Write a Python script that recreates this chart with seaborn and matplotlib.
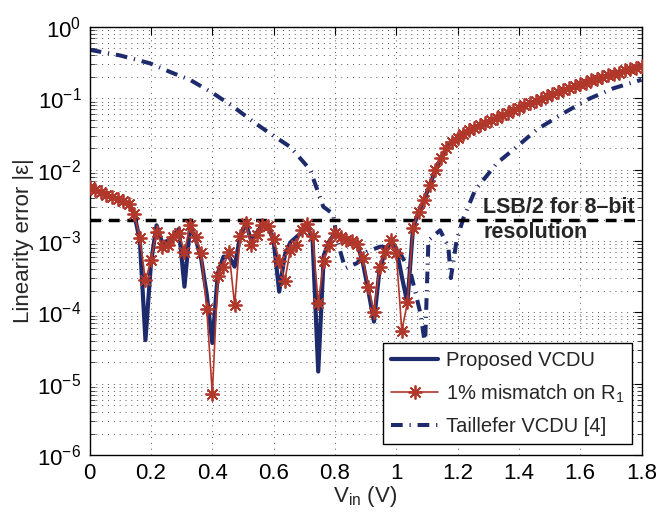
import numpy as np
import pandas as pd
import matplotlib
matplotlib.use("Agg")
import matplotlib.pyplot as plt
import seaborn as sns
from matplotlib.ticker import LogLocator, NullFormatter, FixedLocator, FixedFormatter

# ---------------- data ----------------
vin = np.linspace(0, 1.8, 100)

mismatch_log10 = [
    -2.24, -2.28, -2.32, -2.35, -2.38, -2.41, -2.44, -2.48, -2.62, -2.96,
    -3.55, -3.27, -2.87, -3.08, -3.06, -2.94, -2.89, -3.15, -2.78, -2.94,
    -3.17, -3.95, -5.14, -3.49, -3.36, -3.15, -3.90, -2.93, -2.75, -3.06,
    -2.92, -2.77, -2.79, -2.97, -3.28, -3.56, -3.12, -3.06, -2.85, -2.76,
    -2.93, -3.87, -3.28, -3.06, -2.89, -2.94, -2.98, -3.00, -3.04, -3.24,
    -3.64, -3.99, -3.36, -3.15, -2.99, -3.17, -4.26, -3.86, -2.82, -2.59,
    -2.42, -2.22, -2.01, -1.84, -1.70, -1.61, -1.55, -1.50, -1.45, -1.41,
    -1.37, -1.34, -1.30, -1.27, -1.24, -1.21, -1.17, -1.13, -1.10, -1.07,
    -1.04, -1.01, -0.97, -0.94, -0.91, -0.89, -0.86, -0.83, -0.80, -0.78,
    -0.75, -0.73, -0.70, -0.68, -0.66, -0.64, -0.61, -0.59, -0.57, -0.55,
]

proposed_log10 = [
    -2.24, -2.28, -2.32, -2.35, -2.38, -2.41, -2.44, -2.48, -2.62, -3.00,
    -4.39, -3.30, -2.78, -3.02, -3.00, -2.92, -2.83, -3.64, -2.80, -2.97,
    -3.25, -3.75, -4.43, -3.45, -3.22, -3.22, -3.36, -2.93, -2.75, -3.00,
    -2.88, -2.77, -2.79, -3.00, -3.71, -3.20, -3.02, -2.95, -2.88, -2.76,
    -3.00, -4.83, -3.20, -3.00, -2.89, -2.94, -2.98, -3.00, -3.04, -3.30,
    -3.70, -4.13, -3.40, -3.15, -3.02, -3.10, -3.50, -3.87, -2.82, -2.59,
    -2.42, -2.22, -2.01, -1.84, -1.70, -1.61, -1.55, -1.50, -1.45, -1.41,
    -1.37, -1.34, -1.30, -1.27, -1.24, -1.21, -1.17, -1.13, -1.10, -1.07,
    -1.04, -1.01, -0.97, -0.94, -0.91, -0.89, -0.86, -0.83, -0.80, -0.78,
    -0.75, -0.73, -0.70, -0.68, -0.66, -0.64, -0.61, -0.59, -0.57, -0.55,
]

taillefer_vin = [0.0, 0.10, 0.197, 0.262, 0.327, 0.403, 0.469, 0.534, 0.594,
                 0.654, 0.719, 0.762, 0.794, 0.807, 0.833, 0.872, 0.905, 0.947,
                 1.002, 1.045, 1.078, 1.094, 1.105, 1.143, 1.170, 1.178, 1.197,
                 1.219, 1.257, 1.328, 1.393, 1.458, 1.545, 1.622, 1.708, 1.8]
taillefer_log10 = [-0.32, -0.40, -0.51, -0.63, -0.74, -0.93, -1.12, -1.33, -1.51,
                   -1.68, -2.00, -2.52, -2.62, -2.99, -3.38, -3.31, -3.15, -3.08,
                   -3.10, -3.41, -4.00, -4.45, -2.99, -2.85, -3.08, -3.52, -2.99,
                   -2.68, -2.29, -1.91, -1.68, -1.44, -1.21, -1.02, -0.86, -0.74]

lsb_half = 1 / 512
x_ticks = [0, 0.2, 0.4, 0.6, 0.8, 1.0, 1.2, 1.4, 1.6, 1.8]
x_tick_labels = ["0", "0.2", "0.4", "0.6", "0.8", "1", "1.2", "1.4", "1.6", "1.8"]
y_ticks = [1e-6, 1e-5, 1e-4, 1e-3, 1e-2, 1e-1, 1e0]
y_tick_labels = [r"$10^{-6}$", r"$10^{-5}$", r"$10^{-4}$", r"$10^{-3}$",
                 r"$10^{-2}$", r"$10^{-1}$", r"$10^{0}$"]
series_labels = ["Proposed VCDU", "1% mismatch on R$_1$", "Taillefer VCDU [4]"]
annotation_lines = ["LSB/2 for 8\u2013bit", "resolution"]

# ---------------- style ----------------
sns.set_style("white")
plt.rcParams["font.family"] = ["Liberation Sans", "DejaVu Sans"]
plt.rcParams["mathtext.fontset"] = "custom"
plt.rcParams["mathtext.rm"] = "Liberation Sans"
plt.rcParams["mathtext.it"] = "Liberation Sans:italic"
plt.rcParams["mathtext.bf"] = "Liberation Sans:bold"

navy = "#1d2a6c"
red = "#b2372b"

df_prop = pd.DataFrame({"vin": vin, "err": 10 ** np.array(proposed_log10)})
df_mis = pd.DataFrame({"vin": vin, "err": 10 ** np.array(mismatch_log10)})
df_tail = pd.DataFrame({"vin": taillefer_vin, "err": 10 ** np.array(taillefer_log10)})

fig = plt.figure(figsize=(6.61, 5.12), dpi=100)
ax = fig.add_axes([0.1357, 0.1113, 0.8348, 0.836])
ax.set_yscale("log")
ax.set_axisbelow(True)

sns.lineplot(data=df_tail, x="vin", y="err", ax=ax, color=navy, lw=2.9,
             label=series_labels[2], zorder=2)
ax.lines[-1].set_dashes([2.9, 1.7, 0.3, 1.7])

ax.axhline(lsb_half, color="black", lw=2.5, dashes=(3.1, 2.2), zorder=3)

sns.lineplot(data=df_prop, x="vin", y="err", ax=ax, color=navy, lw=3.0,
             label=series_labels[0], zorder=4)
sns.lineplot(data=df_mis, x="vin", y="err", ax=ax, color=red, lw=1.2,
             marker=(8, 2, 0), markersize=10, markeredgecolor=red,
             markeredgewidth=1.3, label=series_labels[1], zorder=5)

ax.set_xlim(0, 1.8)
ax.set_ylim(1e-6, 1)

ax.xaxis.set_major_locator(FixedLocator(x_ticks))
ax.xaxis.set_major_formatter(FixedFormatter(x_tick_labels))
ax.yaxis.set_major_locator(FixedLocator(y_ticks))
ax.yaxis.set_major_formatter(FixedFormatter(y_tick_labels))
ax.yaxis.set_minor_locator(LogLocator(base=10, subs=np.arange(2, 10), numticks=20))
ax.yaxis.set_minor_formatter(NullFormatter())

grid_kw = dict(color="#555555", lw=0.7, linestyle=(0, (1, 5)))
ax.grid(True, which="major", axis="both", **grid_kw)
ax.grid(True, which="minor", axis="y", **grid_kw)

ax.tick_params(axis="both", which="major", direction="in", length=6, width=0.8,
               top=True, right=True, labelsize=16, pad=6, colors="black")
ax.tick_params(axis="y", which="minor", direction="in", length=3.5, width=0.6,
               left=True, right=True)
for s in ax.spines.values():
    s.set_color("black")
    s.set_linewidth(1.0)

ax.set_xlabel(r"V$_{\rm in}$ (V)", fontsize=16, labelpad=0)
ax.set_ylabel("Linearity error |\u03b5|", fontsize=16, labelpad=2)

ax.text(1.284, 10 ** -2.608, annotation_lines[0], fontsize=15.5, fontweight="bold",
        va="baseline", ha="left", zorder=6)
ax.text(1.284, 10 ** -2.958, annotation_lines[1], fontsize=15.5, fontweight="bold",
        va="baseline", ha="left", zorder=6)

handles, labels = ax.get_legend_handles_labels()
order = [labels.index(l) for l in series_labels]
leg = ax.legend([handles[i] for i in order], [labels[i] for i in order],
                loc="lower right", bbox_to_anchor=(0.983, 0.026), borderaxespad=0,
                fontsize=14.5, frameon=True, fancybox=False, framealpha=1,
                edgecolor="black", handlelength=2.3, handletextpad=0.4,
                borderpad=0.4, labelspacing=0.6)
leg.get_frame().set_linewidth(1.0)
leg.set_zorder(10)

fig.savefig("out.png", dpi=100)
